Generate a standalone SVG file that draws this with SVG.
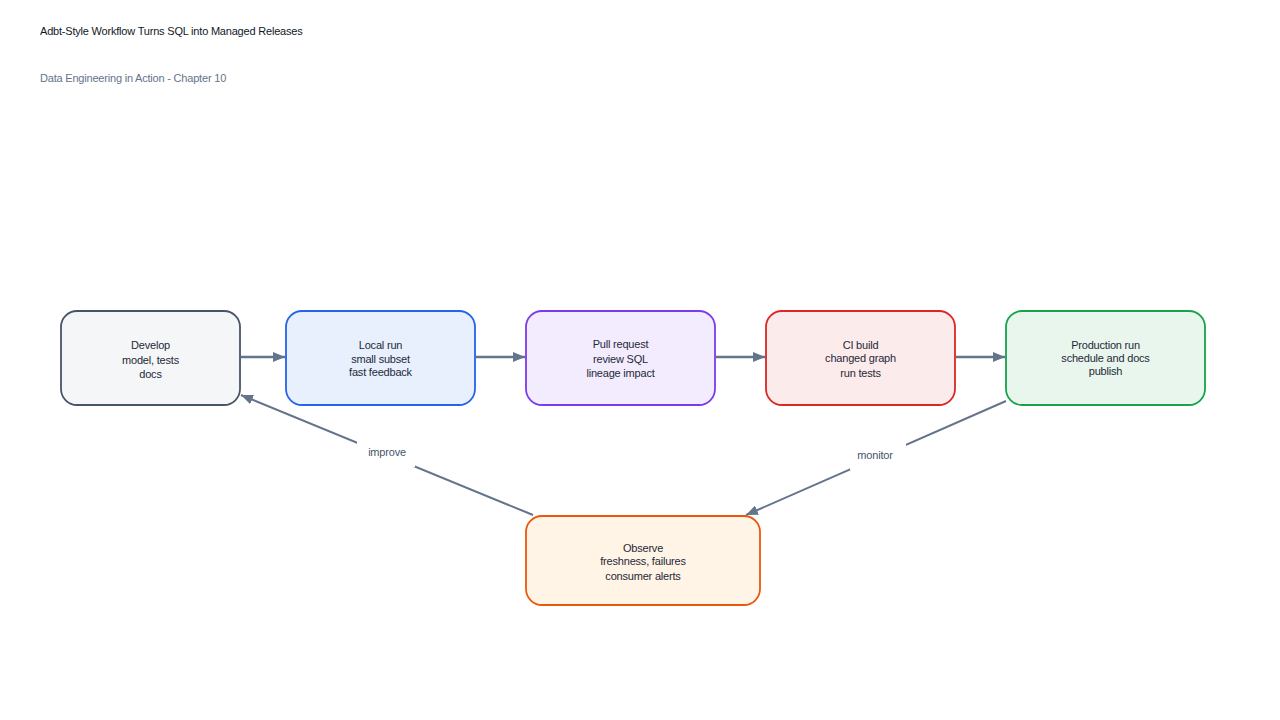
<svg xmlns="http://www.w3.org/2000/svg" width="1280" height="720" viewBox="0 0 1280 720">
<defs>
<marker id="ah" viewBox="0 0 12 10" refX="12" refY="5" markerWidth="12" markerHeight="10" markerUnits="userSpaceOnUse" orient="auto">
<path d="M0,0 L12,5 L0,10 z" fill="#64748b"/>
</marker>
</defs>
<style>
text{font-family:"Liberation Sans",Arial,sans-serif;font-size:11px;letter-spacing:-0.2px;}
.t{fill:#111827;}
.st{fill:#64748b;}
.n{fill:#1f2937;text-anchor:middle;}
.lbl{fill:#475569;text-anchor:middle;}
.box{stroke-width:1.8;}
.e{fill:none;stroke:#64748b;stroke-width:2.5;}
.d{fill:none;stroke:#64748b;stroke-width:2;}
</style>
<rect width="1280" height="720" fill="#ffffff"/>
<text class="t" x="40" y="35">Adbt-Style Workflow Turns SQL into Managed Releases</text>
<text class="st" x="40" y="82">Data Engineering in Action - Chapter 10</text>

<g id="connectors">
<line class="e" x1="241" y1="357" x2="285" y2="357" marker-end="url(#ah)"/>
<line class="e" x1="476" y1="357" x2="525" y2="357" marker-end="url(#ah)"/>
<line class="e" x1="716" y1="357" x2="765" y2="357" marker-end="url(#ah)"/>
<line class="e" x1="956" y1="357" x2="1005" y2="357" marker-end="url(#ah)"/>
<line class="d" x1="533" y1="515" x2="241" y2="395" marker-end="url(#ah)"/>
<line class="d" x1="1006" y1="401" x2="746" y2="515" marker-end="url(#ah)"/>
<rect x="357" y="440" width="58" height="27" fill="#ffffff"/>
<text class="lbl" x="387" y="456">improve</text>
<rect x="850" y="444" width="56" height="26" fill="#ffffff"/>
<text class="lbl" x="875" y="459">monitor</text>
</g>

<g id="develop">
<rect class="box" x="61" y="311" width="179" height="94" rx="16" fill="#f4f6f8" stroke="#475569"/>
<text class="n" x="150.5" y="349">Develop</text>
<text class="n" x="150.5" y="364">model, tests</text>
<text class="n" x="150.5" y="378">docs</text>
</g>
<g id="local-run">
<rect class="box" x="286" y="311" width="189" height="94" rx="16" fill="#e8f0fe" stroke="#2563eb"/>
<text class="n" x="380.5" y="349">Local run</text>
<text class="n" x="380.5" y="363">small subset</text>
<text class="n" x="380.5" y="376">fast feedback</text>
</g>
<g id="pull-request">
<rect class="box" x="526" y="311" width="189" height="94" rx="16" fill="#f3ecff" stroke="#7c3aed"/>
<text class="n" x="620.5" y="348">Pull request</text>
<text class="n" x="620.5" y="363">review SQL</text>
<text class="n" x="620.5" y="377">lineage impact</text>
</g>
<g id="ci-build">
<rect class="box" x="766" y="311" width="189" height="94" rx="16" fill="#fcebeb" stroke="#dc2626"/>
<text class="n" x="860.5" y="349">CI build</text>
<text class="n" x="860.5" y="362">changed graph</text>
<text class="n" x="860.5" y="377">run tests</text>
</g>
<g id="production-run">
<rect class="box" x="1006" y="311" width="199" height="94" rx="16" fill="#e9f6ed" stroke="#16a34a"/>
<text class="n" x="1105.5" y="349">Production run</text>
<text class="n" x="1105.5" y="362">schedule and docs</text>
<text class="n" x="1105.5" y="375">publish</text>
</g>
<g id="observe">
<rect class="box" x="526" y="516" width="234" height="89" rx="16" fill="#fff4e6" stroke="#ea580c"/>
<text class="n" x="643" y="552">Observe</text>
<text class="n" x="643" y="565">freshness, failures</text>
<text class="n" x="643" y="580">consumer alerts</text>
</g>
</svg>
